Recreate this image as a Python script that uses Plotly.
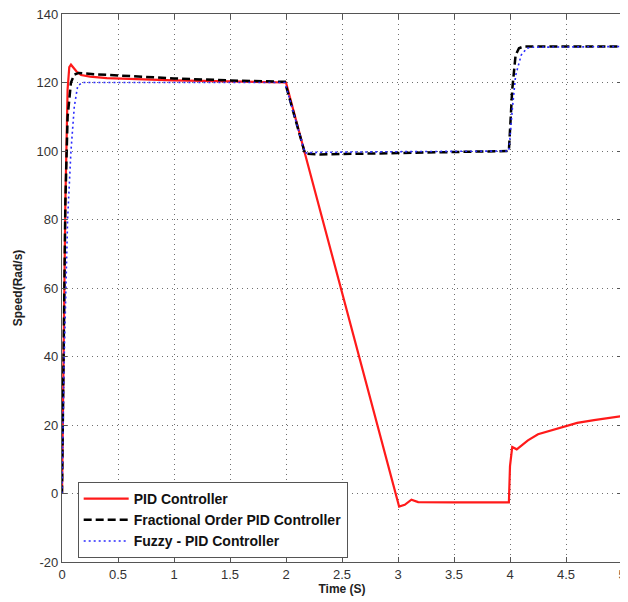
import plotly.graph_objects as go

# ---- data ----
pid_t = [0, 0.01, 0.03, 0.05, 0.065, 0.08, 0.1, 0.13, 0.17, 0.25, 0.4, 0.7, 1.0, 1.5, 2.0,
         3.01, 3.06, 3.12, 3.18, 3.5, 3.99, 4.0, 4.02, 4.06, 4.1, 4.16, 4.25, 4.4, 4.5,
         4.6, 4.75, 4.9, 5.0]
pid_v = [0, 25, 85, 118, 124.5, 125.2, 124.5, 123.2, 122.2, 121.7, 121.3, 120.9, 120.6, 120.3, 120.0,
         -3.8, -3.3, -1.8, -2.5, -2.6, -2.6, 8, 13.6, 12.9, 14.0, 15.5, 17.3, 18.8, 19.8,
         20.6, 21.4, 22.1, 22.6]

fo_t = [0, 0.01, 0.03, 0.05, 0.08, 0.11, 0.15, 0.3, 0.6, 1.0, 1.5, 1.99, 2.17, 2.3, 3.0,
        3.5, 3.99, 4.02, 4.05, 4.08, 4.12, 4.2, 5.0]
fo_v = [0, 30, 85, 110, 120, 122.3, 122.8, 122.4, 121.8, 121.2, 120.6, 120.2, 99.2, 99.0, 99.4,
        99.7, 100, 118, 128, 130, 130.5, 130.5, 130.5]

fz_t = [0, 0.02, 0.05, 0.08, 0.11, 0.14, 0.18, 0.3, 1.0, 1.99, 2.17, 2.25, 3.0, 3.99,
        4.02, 4.05, 4.1, 4.15, 4.2, 5.0]
fz_v = [0, 40, 80, 100, 113, 119, 120, 120, 120, 120, 99.4, 99.6, 99.8, 100,
        112, 122, 128, 130, 130.3, 130.5]

x_ticks = [0, 0.5, 1, 1.5, 2, 2.5, 3, 3.5, 4, 4.5, 5]
y_ticks = [-20, 0, 20, 40, 60, 80, 100, 120, 140]

fig = go.Figure()
fig.add_trace(go.Scatter(x=pid_t, y=pid_v, mode="lines", name="PID Controller",
                         line=dict(color="#ff1a1a", width=2.2)))
fig.add_trace(go.Scatter(x=fo_t, y=fo_v, mode="lines", name="Fractional Order PID Controller",
                         line=dict(color="black", width=2.5, dash="8px,4px")))
fig.add_trace(go.Scatter(x=fz_t, y=fz_v, mode="lines", name="Fuzzy - PID Controller",
                         line=dict(color="#2a2aff", width=1.6, dash="2px,3px")))

axis_common = dict(
    showline=True, linecolor="#555", linewidth=1.2, mirror="ticks",
    ticks="inside", ticklen=5, tickcolor="#555",
    showgrid=True, gridcolor="#6f6f6f", griddash="1px,4px", gridwidth=1,
    zeroline=False, automargin=False, ticklabeloverflow="allow",
    tickfont=dict(family="Liberation Sans, Arial", size=13, color="#333"),
)

fig.update_xaxes(range=[0, 5], tickvals=x_ticks, ticktext=[f"{v:g}" for v in x_ticks],
                 title=dict(text="<b>Time (S)</b>", standoff=2,
                            font=dict(family="Liberation Sans, Arial", size=12, color="#222")),
                 **axis_common)
fig.update_yaxes(range=[-20, 140], tickvals=y_ticks, ticktext=[str(v) for v in y_ticks],
                 title=dict(text="<b>Speed(Rad/s)</b>", standoff=11,
                            font=dict(family="Liberation Sans, Arial", size=12, color="#222")),
                 **axis_common)

# the page body has an 8px margin, so the figure is sized to fill the rest of the window
fig.update_layout(
    width=620, height=594,
    margin=dict(l=54, r=6, t=6, b=40),
    plot_bgcolor="white", paper_bgcolor="white",
    showlegend=True,
    legend=dict(x=0.028, y=0.146, xanchor="left", yanchor="top",
                bgcolor="white", bordercolor="#555", borderwidth=1,
                itemwidth=45, tracegroupgap=0,
                font=dict(family="Liberation Sans, Arial", size=14, color="#111", weight="bold")),
)

fig.write_html("out.html")
